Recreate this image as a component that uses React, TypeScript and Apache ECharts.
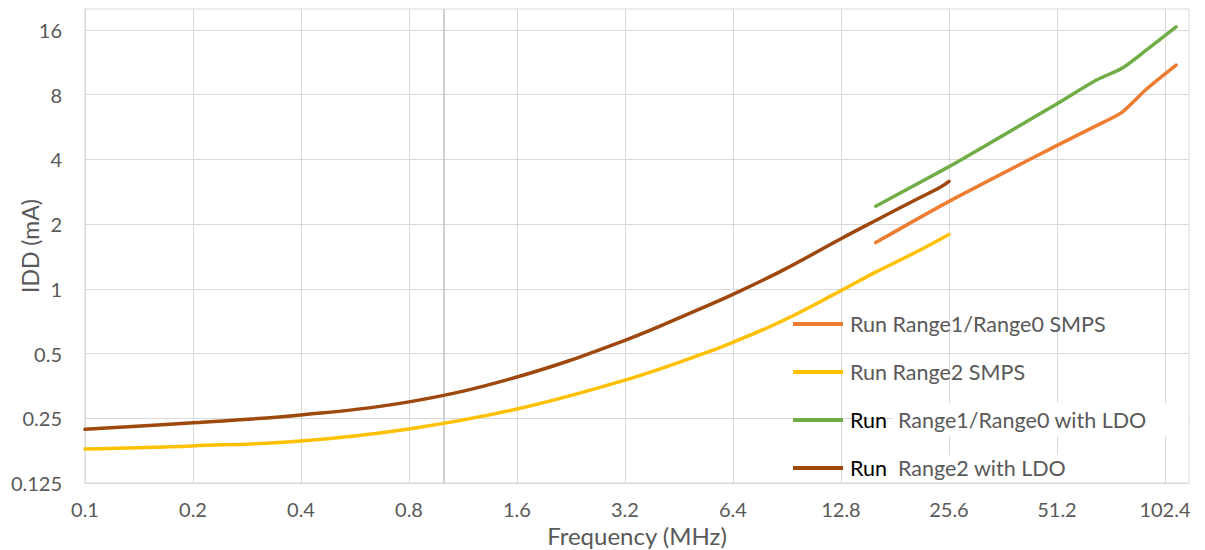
import React, { useEffect, useRef } from "react";
import * as echarts from "echarts";

const xTicks = [0.1, 0.2, 0.4, 0.8, 1.6, 3.2, 6.4, 12.8, 25.6, 51.2, 102.4];
const yTicks = [0.125, 0.25, 0.5, 1, 2, 4, 8, 16];

const seriesNames = [
  "Run Range1/Range0 SMPS",
  "Run Range2 SMPS",
  "Run Range1/Range0 with LDO",
  "Run Range2 with LDO",
];
const seriesColors = ["#ED7D31", "#FFC000", "#70AD47", "#9E480E"];

const freqR1Smps = [16, 25.4, 51.1, 66, 77.7, 91, 110];
const iddR1Smps = [1.64, 2.53, 4.63, 5.74, 6.61, 8.49, 10.97];

const freqR2Smps = [0.1, 0.2, 0.4, 0.8, 1.6, 3.2, 5.2, 6.4, 8.8, 12.8, 16, 20.3, 25.6];
const iddR2Smps = [0.18, 0.186, 0.196, 0.223, 0.276, 0.376, 0.494, 0.564, 0.71, 0.98, 1.196, 1.455, 1.79];

const freqR1Ldo = [16, 25.4, 31.2, 51.1, 66, 77.7, 91, 110];
const iddR1Ldo = [2.42, 3.67, 4.47, 7.23, 9.35, 10.6, 12.9, 16.5];

const freqR2Ldo = [0.1, 0.2, 0.4, 0.8, 1.6, 3.2, 5.2, 6.4, 8.8, 12.8, 16, 20.3, 24.2, 25.6];
const iddR2Ldo = [0.222, 0.238, 0.259, 0.298, 0.389, 0.576, 0.809, 0.942, 1.218, 1.709, 2.078, 2.554, 2.966, 3.16];

const zip = (xs: number[], ys: number[]) => xs.map((x, i) => [x, ys[i]]);

const FONT = "Lato";
const GRAY = "#595959";
const GRID = "#d9d9d9";

const fmt = (v: number) => String(+Number(v).toPrecision(6));

export default function App() {
  const ref = useRef<HTMLDivElement>(null);
  useEffect(() => {
    if (!ref.current) return;
    const chart = echarts.init(ref.current, null, { renderer: "svg" });
    const dataSets = [
      zip(freqR1Smps, iddR1Smps),
      zip(freqR2Smps, iddR2Smps),
      zip(freqR1Ldo, iddR1Ldo),
      zip(freqR2Ldo, iddR2Ldo),
    ];
    const smoothVals = [0.25, 0.4, 0.25, 0.4];
    chart.setOption({
      animation: false,
      backgroundColor: "#fff",
      grid: {
        left: 85,
        right: 16,
        top: 9,
        bottom: 67,
        show: true,
        borderColor: GRID,
        borderWidth: 1,
        containLabel: false,
        outerBoundsMode: "none",
      },
      xAxis: {
        type: "log",
        logBase: 2,
        min: 0.1,
        max: 119.5,
        name: "Frequency (MHz)",
        nameLocation: "middle",
        nameGap: 40,
        nameMoveOverlap: false,
        nameTextStyle: { fontFamily: FONT, fontSize: 24, color: GRAY },
        axisLine: { show: true, lineStyle: { color: GRID } },
        axisTick: { show: false, customValues: xTicks },
        axisLabel: {
          customValues: xTicks,
          margin: 16,
          fontFamily: FONT,
          fontSize: 20,
          color: GRAY,
          formatter: (v: number) => fmt(v),
        },
        splitLine: { show: true, lineStyle: { color: GRID, width: 1 } },
        minorSplitLine: { show: false },
      },
      yAxis: {
        type: "log",
        logBase: 2,
        min: 0.125,
        max: 20,
        name: "IDD (mA)",
        nameLocation: "middle",
        nameGap: 44,
        nameMoveOverlap: false,
        nameTextStyle: { fontFamily: FONT, fontSize: 23, color: GRAY },
        axisLine: { show: true, lineStyle: { color: GRID } },
        axisTick: { show: false, customValues: yTicks },
        axisLabel: {
          customValues: yTicks,
          margin: 23,
          fontFamily: FONT,
          fontSize: 20,
          color: GRAY,
          formatter: (v: number) => fmt(v),
        },
        splitLine: { show: true, lineStyle: { color: GRID, width: 1 } },
      },
      legend: {
        orient: "vertical",
        left: 793,
        top: 313,
        padding: 0,
        itemGap: 26,
        itemWidth: 50,
        itemHeight: 4,
        icon: "rect",
        data: seriesNames,
        formatter: (name: string) =>
          name.indexOf("with LDO") >= 0
            ? "{k|Run}  {g|" + name.slice(4) + "}"
            : "{g|" + name + "}",
        textStyle: {
          fontFamily: FONT,
          fontSize: 21.5,
          color: GRAY,
          padding: [0, 0, 0, 2],
          rich: {
            k: { fontFamily: FONT, fontSize: 21.5, color: "#000" },
            g: { fontFamily: FONT, fontSize: 21.5, color: GRAY },
          },
        },
      },
      graphic: [
        {
          type: "rect",
          z: 1,
          shape: { x: 893, y: 403, width: 295, height: 33 },
          style: { fill: "#fff" },
        },
        {
          type: "rect",
          z: 1,
          shape: { x: 893, y: 455, width: 211, height: 27 },
          style: { fill: "#fff" },
        },
      ],
      series: seriesNames.map((name, i) => ({
        name,
        type: "line",
        data: dataSets[i],
        showSymbol: false,
        symbol: "none",
        smooth: smoothVals[i],
        color: seriesColors[i],
        lineStyle: { color: seriesColors[i], width: 3.5, cap: "round", join: "round" },
        z: 3,
        markLine:
          i === 0
            ? {
                silent: true,
                symbol: "none",
                label: { show: false },
                lineStyle: { color: "#c0c0c0", type: "solid", width: 1.5 },
                data: [{ xAxis: 1 }],
                z: 1,
              }
            : undefined,
      })),
    });
    return () => chart.dispose();
  }, []);
  return (
    <div
      ref={ref}
      style={{ position: "fixed", left: 0, top: 0, width: 1205, height: 550 }}
    />
  );
}
